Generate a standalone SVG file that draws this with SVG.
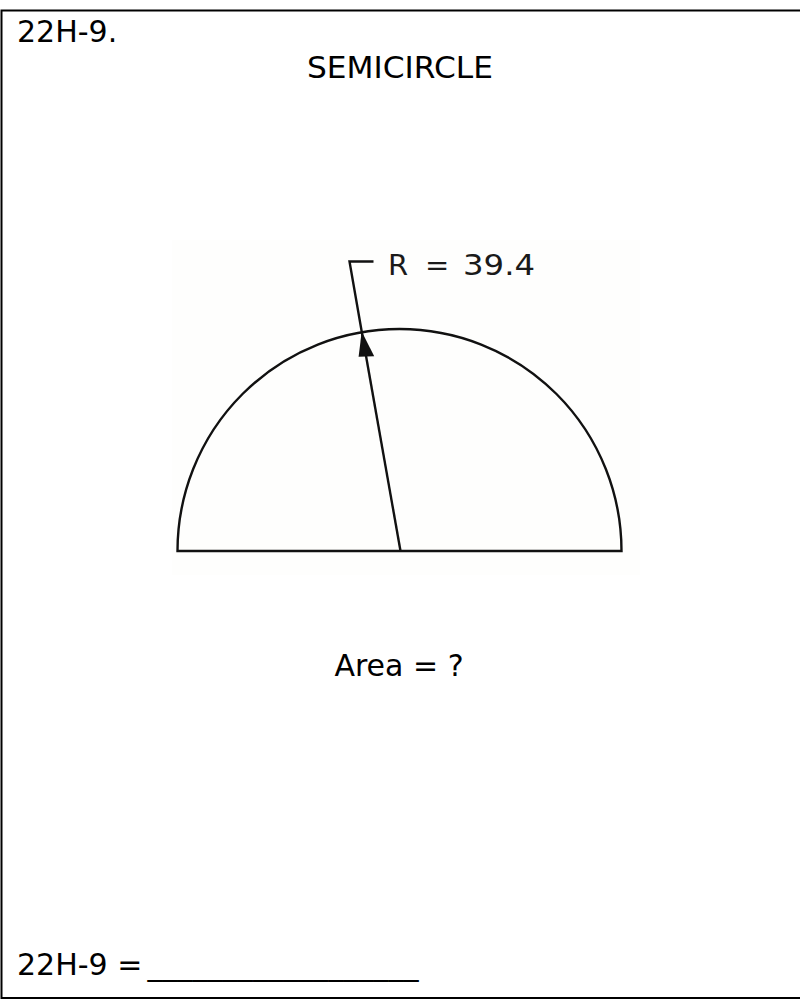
<svg xmlns="http://www.w3.org/2000/svg" width="800" height="1003" viewBox="0 0 800 1003">
<style>
.t{font-family:"DejaVu Sans","Verdana",sans-serif;font-size:30px;fill:#000}
.d{fill:none;stroke:#111;stroke-width:2.4}
</style>
<rect width="800" height="1003" fill="#fff"/>
<path d="M800,10.5 H1.5 V998 H800" fill="none" stroke="#000" stroke-width="2"/>
<g id="header">
<text class="t" x="17" y="41.5">22H-9.</text>
<text class="t" x="400" y="77.5" text-anchor="middle" textLength="186" lengthAdjust="spacingAndGlyphs">SEMICIRCLE</text>
</g>
<g id="figure">
<rect x="172" y="240" width="468" height="335" fill="#fefefd"/>
<path class="d" d="M177.5,551 A222,222 0 0 1 621.5,551 Z"/>
<text y="274.5" style="font-family:'DejaVu Sans',Verdana,sans-serif;font-size:29px;fill:#1a1a1a"><tspan x="388">R </tspan><tspan x="425">= </tspan><tspan x="463" textLength="72" lengthAdjust="spacingAndGlyphs">39.4</tspan></text>
</g>
<g id="connectors">
<path class="d" d="M400.5,551 L361.7,331.5"/>
<path d="M361.7,331.5 L358.6,356.8 L374.2,356.2 Z" fill="#111"/>
<path class="d" d="M361.7,331.5 L349.5,261.5 H373.5"/>
</g>
<g id="question">
<text class="t" x="399" y="675.5" text-anchor="middle">Area = ?</text>
</g>
<g id="answer">
<text class="t" x="17" y="974.5">22H-9 =<tspan x="147.5" textLength="271" lengthAdjust="spacingAndGlyphs">__________________</tspan></text>
</g>
</svg>
